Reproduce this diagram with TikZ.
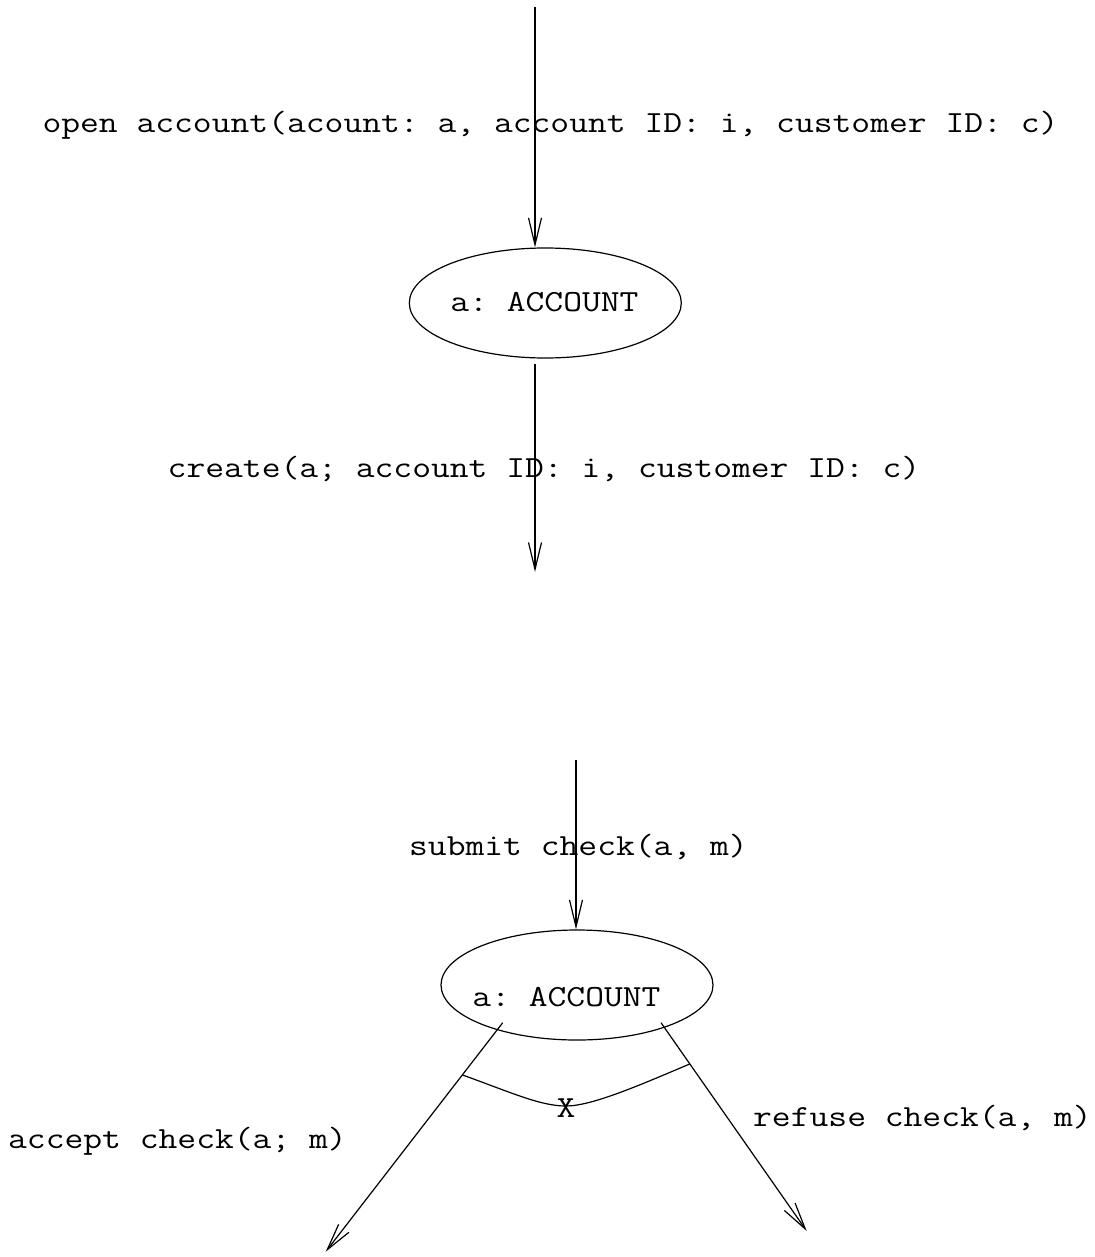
\documentclass[tikz,border=0pt]{standalone}
\usepackage{fontspec}
\setmonofont{Latin Modern Mono}[FakeStretch=1.19]
\usetikzlibrary{arrows.meta,shapes.geometric,calc}
\begin{document}
\begin{tikzpicture}[x=1pt,y=-1pt,
  flow/.style={line width=1.2pt, -{Straight Barb[length=27pt,width=13pt,line width=1.2pt]}},
  object/.style={ellipse, draw, line width=1.2pt, minimum width=272pt, minimum height=110pt, inner sep=0pt},
  msg/.style={font=\ttfamily\fontsize{30.7}{36}\selectfont, inner sep=0pt, anchor=base},
]
\useasboundingbox (0,0) rectangle (1094,1257);

% --- opening an account ---
\node[object] (acc1) at (545.3,303) {};
\node[msg] (acc1txt) at (544.5,311.7) {a: ACCOUNT};
\coordinate (in1) at (535,7);
\coordinate (out1) at (535,572);
\draw[flow] (in1) -- (in1 |- acc1.north);
\draw[flow] ([yshift=-5pt]acc1.south -| out1) -- (out1);
\node[msg] (openlbl) at (550.5,132.3) {open account(acount: a, account ID: i, customer ID: c)};
\node[msg] (createlbl) at (544,477.3) {create(a; account ID: i, customer ID: c)};

% --- submitting a check ---
\node[object] (acc2) at (577,985) {};
\node[msg] (acc2txt) at (566.5,1006) {a: ACCOUNT};
\coordinate (in2) at (576,760);
\draw[flow] (in2) -- (in2 |- acc2.north);
\node[msg] (submitlbl) at (578.5,855) {submit check(a, m)};

\coordinate (accfrom) at ($(acc2.center)+(-74.3,37.7)$);
\coordinate (reffrom) at ($(acc2.center)+(84,37.7)$);
\coordinate (accto) at (325.7,1251.7);
\coordinate (refto) at (806.7,1231);
\draw[flow] (accfrom) -- (accto);
\draw[flow] (reffrom) -- (refto);
\node[msg] (acceptlbl) at (177.5,1148) {accept check(a; m)};
\node[msg] (refuselbl) at (922.5,1126) {refuse check(a, m)};

% exclusive choice between the two outcomes
\coordinate (xl) at ($(accfrom)!0.228!(accto)$);
\coordinate (xr) at ($(reffrom)!0.198!(refto)$);
\draw[line width=1.2pt] (xl) .. controls (510,1092) and (540,1106) .. (566,1106)
  .. controls (592,1106) and (640,1085) .. (xr);
\node[msg] (xlbl) at (566,1117) {X};
\end{tikzpicture}
\end{document}
